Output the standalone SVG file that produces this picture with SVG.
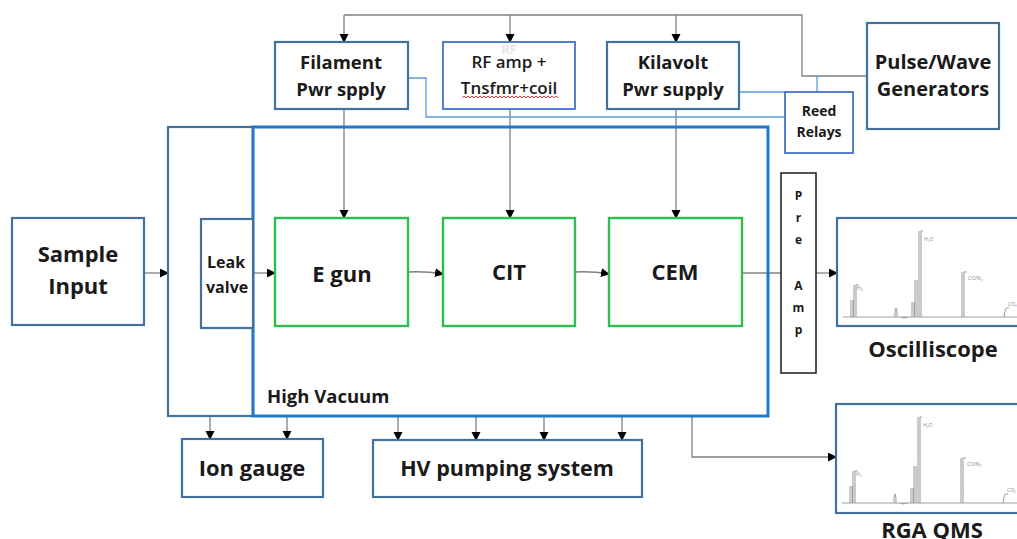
<svg xmlns="http://www.w3.org/2000/svg" width="1017" height="539" viewBox="0 0 1017 539">
<style>
text{font-family:"Open Sans","Liberation Sans",sans-serif;fill:#1a1a1a;font-weight:bold;text-anchor:middle}
.box{fill:#fff;stroke:#41719c;stroke-width:2.2}
.blue2{fill:#fff;stroke:#4472c4;stroke-width:1.8}
.green{fill:#fff;stroke:#2ebd4e;stroke-width:2.4}
.hv{fill:none;stroke:#1f78c8;stroke-width:3}
.conn{fill:none;stroke:#808080;stroke-width:1.3}
.bl{fill:none;stroke:#5b9bd5;stroke-width:1.3}
.spec{fill:none;stroke:#a0a0a0;stroke-width:1.1}
.tiny{font-size:5px;fill:#888;font-weight:normal;text-anchor:start}
</style>
<defs>
<marker id="ah" markerUnits="userSpaceOnUse" markerWidth="10" markerHeight="10" refX="8" refY="4.5" orient="auto"><path d="M0,0 L9,4.5 L0,9 z" fill="#000"/></marker>
<g id="spectrum">
<path class="spec" d="M6,99 H190 M14,99 V82 M16,99 V82 M17,99 V67 M19,99 V67 H22 M58,99 V95 Q59,85 60,95 V99 M64,99 L67,100 L72,99 M75,99 V84 M77,99 V84 M78,99 V62 M80,99 V62 M82,99 V13 M84,99 V13 H86 M125,99 V54 M127,99 V54 H130 M167,99 Q168,90 170,90 H172"/>
<text class="tiny" x="20" y="72">H₂</text>
<text class="tiny" x="87" y="23">H₂O</text>
<text class="tiny" x="131" y="62">CO/N₂</text>
<text class="tiny" x="171" y="88">CO₂</text>
</g>
</defs>

<g id="connectors">
<path class="conn" d="M510,15 H802 V76 H867"/>
<path class="conn" d="M344,15 H510"/>
<path class="conn" d="M344,15 V42" marker-end="url(#ah)"/>
<path class="conn" d="M510,15 V42" marker-end="url(#ah)"/>
<path class="conn" d="M676,15 V42" marker-end="url(#ah)"/>
<path class="conn" d="M344,109 V218" marker-end="url(#ah)"/>
<path class="conn" d="M510,109 V218" marker-end="url(#ah)"/>
<path class="conn" d="M676,109 V218" marker-end="url(#ah)"/>
<path class="conn" d="M144,273 H168" marker-end="url(#ah)"/>
<path class="conn" d="M253,273 H275" marker-end="url(#ah)"/>
<path class="conn" d="M408,272 Q425,271 443,274" marker-end="url(#ah)"/>
<path class="conn" d="M575,272 Q592,271 609,274" marker-end="url(#ah)"/>
<path class="conn" d="M742,273 H781"/>
<path class="conn" d="M816,273 H837" marker-end="url(#ah)"/>
<path class="conn" d="M210,417 V439" marker-end="url(#ah)"/>
<path class="conn" d="M287,417 V439" marker-end="url(#ah)"/>
<path class="conn" d="M398,417 V440" marker-end="url(#ah)"/>
<path class="conn" d="M476,417 V440" marker-end="url(#ah)"/>
<path class="conn" d="M544,417 V440" marker-end="url(#ah)"/>
<path class="conn" d="M622,417 V440" marker-end="url(#ah)"/>
<path class="conn" d="M692,417 V457 H836" marker-end="url(#ah)"/>
<path class="bl" d="M408,78 H426 V117 H785"/>
<path class="bl" d="M739,92 H785"/>
<path class="bl" d="M817,76 V92"/>
</g>

<g id="chamber">
<rect class="box" x="168" y="127" width="85" height="289"/>
</g>
<g id="high-vacuum">
<rect class="hv" x="253" y="127" width="515" height="289"/>
<text x="267" y="403" style="font-size:18.5px;text-anchor:start">High Vacuum</text>
</g>

<g id="filament">
<rect class="box" x="275" y="42" width="133" height="67"/>
<text x="341" y="69" style="font-size:18.5px">Filament</text>
<text x="341" y="96" style="font-size:18.5px">Pwr spply</text>
</g>
<g id="rf-amp">
<rect class="blue2" x="443" y="42" width="132" height="67"/>
<text x="509" y="54" style="font-size:13px;fill:#e6e6e6">RF</text>
<text x="509" y="68" style="font-size:17px;font-weight:600">RF amp +</text>
<text x="509" y="94" style="font-size:17px;font-weight:600">Tnsfmr+coil</text>
<path d="M462,98 l2,-2 2,2 2,-2 2,2 2,-2 2,2 2,-2 2,2 2,-2 2,2 2,-2 2,2 2,-2 2,2 2,-2 2,2 2,-2 2,2 2,-2 2,2 2,-2 2,2 2,-2 2,2 2,-2 2,2 2,-2 2,2 2,-2 2,2 2,-2 2,2 2,-2 2,2 2,-2 2,2 2,-2 2,2 2,-2 2,2 2,-2 2,2 2,-2 2,2 2,-2 2,2 2,-2 2,2" fill="none" stroke="#e03030" stroke-width="0.9"/>
</g>
<g id="kilavolt">
<rect class="box" x="607" y="42" width="132" height="67"/>
<text x="673" y="69" style="font-size:18.5px">Kilavolt</text>
<text x="673" y="96" style="font-size:18.5px">Pwr supply</text>
</g>
<g id="pulse-wave">
<rect class="box" x="867" y="23" width="132" height="106"/>
<text x="933" y="69" style="font-size:20px">Pulse/Wave</text>
<text x="933" y="96" style="font-size:20px">Generators</text>
</g>
<g id="reed-relays">
<rect class="blue2" x="785" y="92" width="68" height="61"/>
<text x="819" y="116" style="font-size:14px">Reed</text>
<text x="819" y="137" style="font-size:14px">Relays</text>
</g>

<g id="sample-input">
<rect class="box" x="12" y="218" width="132" height="107"/>
<text x="78" y="262" style="font-size:22px">Sample</text>
<text x="78" y="294" style="font-size:22px">Input</text>
</g>
<g id="leak-valve">
<rect class="box" x="201" y="219" width="52" height="109"/>
<text x="207" y="268" style="font-size:16px;text-anchor:start">Leak</text>
<text x="206" y="293" style="font-size:16px;text-anchor:start">valve</text>
</g>

<g id="e-gun">
<rect class="green" x="275" y="218" width="133" height="108"/>
<text x="342" y="282" style="font-size:22px">E gun</text>
</g>
<g id="cit">
<rect class="green" x="443" y="218" width="132" height="108"/>
<text x="509" y="280" style="font-size:22px">CIT</text>
</g>
<g id="cem">
<rect class="green" x="609" y="218" width="133" height="108"/>
<text x="675" y="280" style="font-size:22px">CEM</text>
</g>

<g id="pre-amp">
<rect x="781" y="173" width="35" height="200" fill="#fff" stroke="#1a1a1a" stroke-width="1.5"/>
<g style="font-size:12px;font-weight:normal">
<text x="798.5" y="200">P</text>
<text x="798.5" y="222">r</text>
<text x="798.5" y="244">e</text>
<text x="798.5" y="290">A</text>
<text x="798.5" y="312">m</text>
<text x="798.5" y="334">p</text>
</g>
</g>

<g id="oscilloscope">
<rect class="box" x="837" y="218" width="190" height="108"/>
<use href="#spectrum" x="837" y="218"/>
<text x="933" y="357" style="font-size:22px">Oscilliscope</text>
</g>
<g id="rga-qms">
<rect class="box" x="836" y="404" width="190" height="109"/>
<use href="#spectrum" x="836" y="404"/>
<text x="932" y="538" style="font-size:22px">RGA QMS</text>
</g>

<g id="ion-gauge">
<rect class="box" x="182" y="439" width="141" height="58"/>
<text x="252" y="476" style="font-size:22px">Ion gauge</text>
</g>
<g id="hv-pumping">
<rect class="box" x="373" y="440" width="269" height="57"/>
<text x="507" y="476" style="font-size:21.5px">HV pumping system</text>
</g>
</svg>
